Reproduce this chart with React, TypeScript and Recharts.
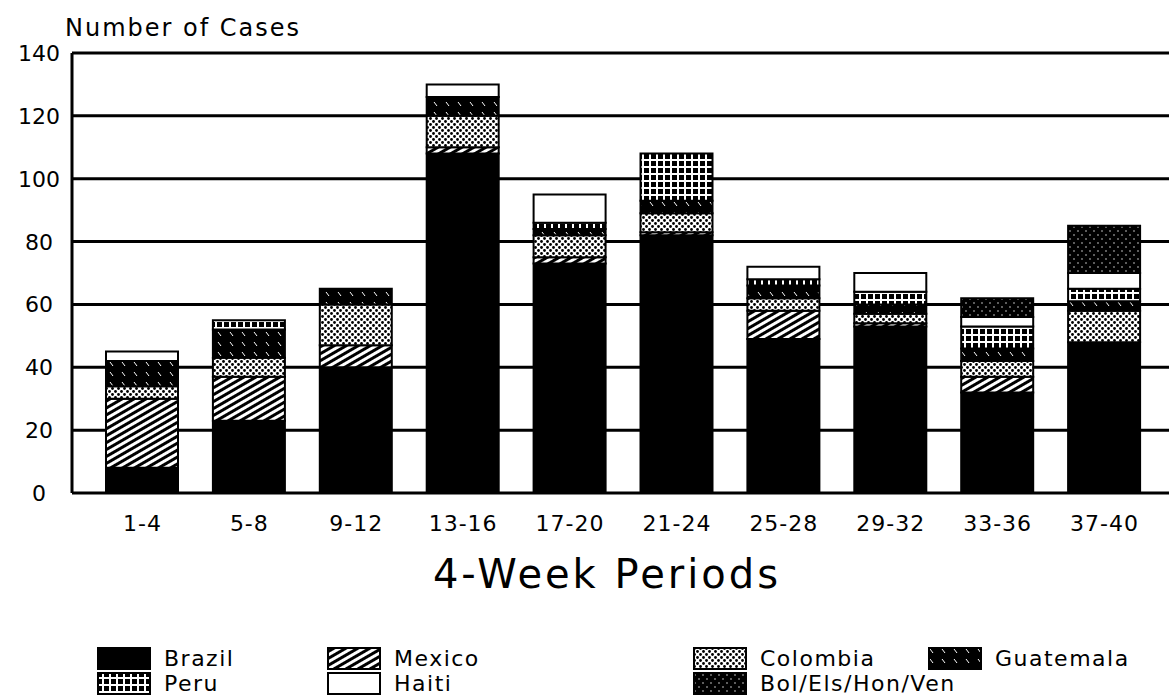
import { BarChart, Bar, XAxis, YAxis, CartesianGrid, Legend } from "recharts";

const periods = ["1-4", "5-8", "9-12", "13-16", "17-20", "21-24", "25-28", "29-32", "33-36", "37-40"];
const brazil = [8, 23, 40, 108, 73, 82, 49, 53, 32, 48];
const mexico = [22, 14, 7, 2, 2, 1, 9, 1, 5, 0];
const colombia = [4, 6, 13, 10, 7, 6, 4, 3, 5, 10];
const guatemala = [8, 9, 5, 6, 2, 4, 4, 3, 4, 3];
const peru = [0, 3, 0, 0, 2, 15, 2, 4, 7, 4];
const haiti = [3, 0, 0, 4, 9, 0, 4, 6, 3, 5];
const bolElsHonVen = [0, 0, 0, 0, 0, 0, 0, 0, 6, 15];
const yTicks = [0, 20, 40, 60, 80, 100, 120, 140];

const data = periods.map((p, i) => ({
  period: p,
  brazil: brazil[i],
  mexico: mexico[i],
  colombia: colombia[i],
  guatemala: guatemala[i],
  peru: peru[i],
  haiti: haiti[i],
  bol: bolElsHonVen[i],
}));

// stacking order follows the legend
const series = [
  { key: "brazil", name: "Brazil", fill: "#000" },
  { key: "mexico", name: "Mexico", fill: "url(#pMex)" },
  { key: "colombia", name: "Colombia", fill: "url(#pCol)" },
  { key: "guatemala", name: "Guatemala", fill: "url(#pGua)" },
  { key: "peru", name: "Peru", fill: "url(#pPeru)" },
  { key: "haiti", name: "Haiti", fill: "#fff" },
  { key: "bol", name: "Bol/Els/Hon/Ven", fill: "url(#pBol)" },
];

const FONT = "'DejaVu Sans', sans-serif";

const YTick = (props: { y?: number; payload?: { value: number } }) => {
  const { y = 0, payload } = props;
  return (
    <text x={39} y={y + 8} textAnchor="middle" fontSize={22} fontFamily={FONT} fill="#000">
      {payload?.value}
    </text>
  );
};

const XTick = (props: { x?: number; y?: number; payload?: { value: string } }) => {
  const { x = 0, y = 0, payload } = props;
  return (
    <text x={x} y={y + 30} textAnchor="middle" fontSize={22} fontFamily={FONT} fill="#000" letterSpacing={1}>
      {payload?.value}
    </text>
  );
};

// legend laid out in two rows like the original
const legendRows = [
  ["brazil", "mexico", "colombia", "guatemala"],
  ["peru", "haiti", "bol"],
];

const renderLegend = () => (
  <div style={{ fontFamily: FONT, fontSize: 22, color: "#000", height: 50 }}>
    {legendRows.map((row, r) => (
      <div key={r} style={{ display: "grid", gridTemplateColumns: "230px 366px 235px 240px", paddingLeft: 97, height: 25 }}>
        {row.map((k) => {
          const s = series.find((x) => x.key === k)!;
          return (
            <div key={k} style={{ display: "flex", alignItems: "center", whiteSpace: "nowrap" }}>
              <svg width={54} height={23} style={{ marginRight: 13, flexShrink: 0 }}>
                <rect x={1} y={1} width={52} height={21} fill={s.fill} stroke="#000" strokeWidth={2} />
              </svg>
              <span style={{ letterSpacing: 1.5, lineHeight: "24px" }}>{s.name}</span>
            </div>
          );
        })}
      </div>
    ))}
  </div>
);

export default function App() {
  return (
    <div style={{ position: "relative", width: 1169, height: 698, background: "#fff", overflow: "hidden" }}>
      <style>{`body{margin:0}`}</style>
      <div style={{ position: "absolute", left: 65, top: 14, fontFamily: FONT, fontSize: 24, letterSpacing: 2 }}>
        Number of Cases
      </div>
      <div style={{ position: "absolute", left: 0, width: 1214, top: 551, textAlign: "center", fontFamily: FONT, fontSize: 40, letterSpacing: 3 }}>
        4-Week Periods
      </div>
      <BarChart
        width={1169}
        height={698}
        data={data}
        margin={{ top: 53, right: 0, bottom: 95, left: 0 }}
        barSize={72}
      >
        <defs>
          <pattern id="pMex" width={6} height={6} patternUnits="userSpaceOnUse" patternTransform="rotate(-30)">
            <rect width={6} height={6} fill="#000" />
            <rect width={6} height={3} fill="#fff" />
          </pattern>
          <pattern id="pCol" width={6} height={6} patternUnits="userSpaceOnUse">
            <rect width={6} height={6} fill="#fff" />
            <circle cx={1.5} cy={1.5} r={1.4} fill="#000" />
            <circle cx={4.5} cy={4.5} r={1.4} fill="#000" />
          </pattern>
          <pattern id="pGua" width={12} height={10} patternUnits="userSpaceOnUse">
            <rect width={12} height={10} fill="#000" />
            <line x1={2} y1={2} x2={5} y2={6} stroke="#fff" strokeWidth={1} />
          </pattern>
          <pattern id="pPeru" width={7} height={7} patternUnits="userSpaceOnUse">
            <rect width={7} height={7} fill="#fff" />
            <rect x={0} y={0} width={5} height={5} fill="#000" />
          </pattern>
          <pattern id="pBol" width={8} height={8} patternUnits="userSpaceOnUse">
            <rect width={8} height={8} fill="#000" />
            <circle cx={2} cy={3} r={0.7} fill="#fff" />
            <circle cx={6} cy={7} r={0.7} fill="#fff" />
          </pattern>
        </defs>
        <CartesianGrid vertical={false} stroke="#000" strokeWidth={3} />
        <XAxis
          dataKey="period"
          axisLine={false}
          tickLine={false}
          tick={<XTick />}
          padding={{ left: 17, right: 11 }}
          height={60}
          interval={0}
        />
        <YAxis
          domain={[0, 140]}
          ticks={yTicks}
          width={72}
          axisLine={{ stroke: "#000", strokeWidth: 3 }}
          tickLine={false}
          tick={<YTick />}
        />
        <Legend
          content={renderLegend}
          wrapperStyle={{ position: "absolute", left: 0, top: 646, width: 1169 }}
        />
        {series.map((s) => (
          <Bar
            key={s.key}
            dataKey={s.key}
            name={s.name}
            stackId="a"
            fill={s.fill}
            stroke="#000"
            strokeWidth={2}
            isAnimationActive={false}
          />
        ))}
      </BarChart>
    </div>
  );
}
